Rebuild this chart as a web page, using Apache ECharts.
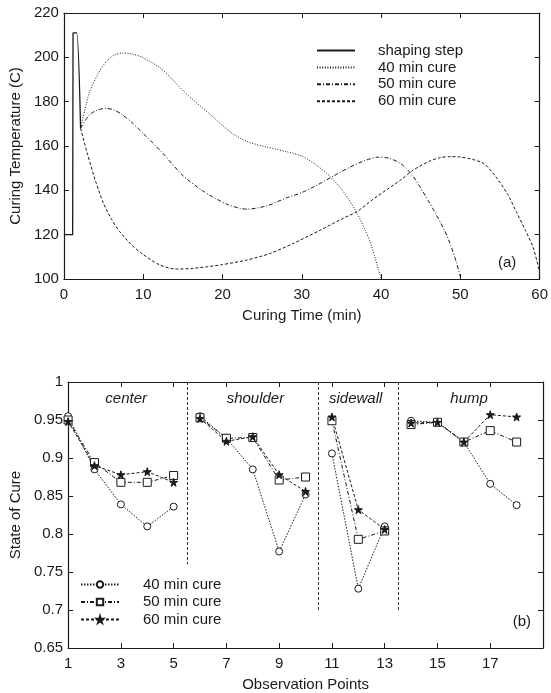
<!DOCTYPE html>
<html>
<head>
<meta charset="utf-8">
<script src="https://cdn.jsdelivr.net/npm/echarts@6/dist/echarts.min.js"></script>
<style>
  html, body { margin: 0; padding: 0; background: #fff; }
  #main { width: 551px; height: 693px; }
</style>
</head>
<body>
<div id="main"></div>
<script>
const FONT = '"Liberation Sans", Arial, Helvetica, sans-serif'
const INK = '#1a1a1a'

// (a) curing temperature profiles, [time (min), temperature (C)]
const shapingStep = [[0, 120], [1.1, 120], [1.15, 211], [1.6, 211], [2.1, 168]]
const cure40 = [[2.1, 168], [3.2, 184], [4.3, 192.5], [5.3, 198], [6.3, 201], [7.4, 202], [8.6, 201.5],
  [9.9, 200], [12.4, 194.5], [15.3, 184], [18.2, 175], [21.1, 166], [23.1, 162], [25.6, 159.5],
  [28, 157.5], [30, 155.5], [31.8, 151.5], [33.5, 146.5], [35, 140.5], [36, 135.5], [37, 129.5],
  [38, 122], [38.6, 117], [39.2, 110], [39.7, 104], [40, 100]]
const cure50 = [[2.1, 168], [3.2, 174], [4.2, 176.2], [5.3, 177], [6.3, 176.3], [7.4, 174], [8.6, 170.5],
  [9.9, 166], [12.4, 157], [14.9, 147], [17.4, 140], [20.7, 133.5], [23.1, 131.5], [25.6, 133],
  [28, 136.5], [30, 139], [32, 142.5], [34, 146.5], [36, 150.3], [38, 153.5], [39.7, 155], [41, 154.5],
  [42.5, 152], [43.9, 147], [45, 141], [46, 135], [46.8, 130], [48, 122], [48.8, 115], [49.5, 107.5], [50, 101]]
const cure60 = [[2.1, 168], [3, 156], [4, 144], [5, 134], [6, 127], [7, 121.5], [8.5, 115.5], [10, 111],
  [12, 106.5], [14, 104.5], [16, 104.7], [18, 105.5], [20, 106.5], [23, 108.5], [26, 111.5], [28.9, 116],
  [32.3, 122], [35, 127], [37, 130.5], [39, 136], [41, 141], [42.6, 145], [44, 149], [46, 153],
  [47.5, 154.8], [48.8, 155.2], [50, 155], [51.5, 154], [53, 152], [54.5, 146], [56, 138], [57.1, 130],
  [58.2, 122], [59.2, 114], [60, 103]]

// (b) state of cure at the observation points
const obsPoints = [1, 2, 3, 4, 5, 6, 7, 8, 9, 10, 11, 12, 13, 14, 15, 16, 17, 18]
const regionNames = ['center', 'shoulder', 'sidewall', 'hump']
const regionSizes = [5, 5, 3, 5]
const regionLabelX = [3.2, 8.1, 11.9, 16.2]
const separatorX = [5.5, 10.5, 13.5]
const separatorBottom = [0.76, 0.70, 0.70]
const cure40State = [0.955, 0.885, 0.839, 0.810, 0.836, 0.955, 0.926, 0.885, 0.777, 0.852,
  0.906, 0.728, 0.810, 0.949, 0.947, 0.921, 0.866, 0.838]
const cure50State = [0.950, 0.894, 0.868, 0.868, 0.877, 0.953, 0.926, 0.927, 0.871, 0.875,
  0.949, 0.793, 0.804, 0.944, 0.947, 0.921, 0.936, 0.921]
const cure60State = [0.948, 0.890, 0.878, 0.882, 0.868, 0.952, 0.922, 0.928, 0.878, 0.856,
  0.954, 0.832, 0.806, 0.946, 0.947, 0.921, 0.957, 0.954]

const STAR = 'path://M50,0 L61,35 L98,35 L68,57 L79,91 L50,70 L21,91 L32,57 L2,35 L39,35 Z'

// break the line between regions
function regionData(values) {
  let out = []
  let k = 0
  regionSizes.forEach(function (n, r) {
    for (let i = 0; i < n; i++, k++) {
      out.push([obsPoints[k], values[k]])
    }
    if (r < regionSizes.length - 1) out.push([obsPoints[k - 1] + 0.5, '-'])
  })
  return out
}

const labelStyle = {fontFamily: FONT, fontSize: 15, color: INK}

function boxX(gridIndex, min, max, interval, name, formatter) {
  let line = {onZero: false, lineStyle: {color: INK, width: 1.2}}
  let tick = {inside: true, length: 5, lineStyle: {color: INK}}
  return [{
    type: 'value', gridIndex: gridIndex, min: min, max: max, interval: interval, position: 'bottom',
    name: name, nameLocation: 'middle', nameGap: 29, nameTextStyle: labelStyle,
    axisLine: line, axisTick: tick, splitLine: {show: false},
    axisLabel: Object.assign({margin: 8, formatter: formatter}, labelStyle)
  }, {
    type: 'value', gridIndex: gridIndex, min: min, max: max, interval: interval, position: 'top',
    axisLine: line, axisTick: tick, splitLine: {show: false}, axisLabel: {show: false}
  }]
}

function boxY(gridIndex, min, max, interval, name, formatter) {
  let line = {onZero: false, lineStyle: {color: INK, width: 1.2}}
  let tick = {inside: true, length: 5, lineStyle: {color: INK}}
  return [{
    type: 'value', gridIndex: gridIndex, min: min, max: max, interval: interval, position: 'left',
    name: name, nameLocation: 'middle', nameGap: 36, nameTextStyle: labelStyle,
    axisLine: line, axisTick: tick, splitLine: {show: false},
    axisLabel: Object.assign({margin: 5, formatter: formatter}, labelStyle)
  }, {
    type: 'value', gridIndex: gridIndex, min: min, max: max, interval: interval, position: 'right',
    axisLine: line, axisTick: tick, splitLine: {show: false}, axisLabel: {show: false}
  }]
}

function tempLine(name, data, dash, width) {
  return {
    name: name, type: 'line', xAxisIndex: 0, yAxisIndex: 0, data: data,
    symbol: 'none', smooth: 0.25, animation: false,
    lineStyle: {color: INK, width: width, type: dash},
    itemStyle: {color: INK}
  }
}

function cureLine(name, data, dash, symbol, fill, size) {
  return {
    name: name, type: 'line', xAxisIndex: 2, yAxisIndex: 2, data: regionData(data),
    symbol: symbol, symbolSize: size, showAllSymbol: true, connectNulls: false, animation: false,
    lineStyle: {color: INK, width: 1, type: dash},
    itemStyle: {color: fill, borderColor: INK, borderWidth: 1}
  }
}

const sepLines = separatorX.map(function (x, i) {
  return [{coord: [x, 1]}, {coord: [x, separatorBottom[i]]}]
})

let myChart = echarts.init(document.getElementById('main'), null, {renderer: 'canvas'})

let series = [
  tempLine('shaping step', shapingStep, 'solid', 1.3),
  tempLine('40 min cure', cure40, [1, 1.6], 1),
  tempLine('50 min cure', cure50, [4, 2, 1, 2], 1),
  tempLine('60 min cure', cure60, [3, 2], 1),
  cureLine('40 min cure ', cure40State, [1.5, 1.5], 'circle', '#fff', 7),
  cureLine('50 min cure ', cure50State, [4, 2, 1, 2], 'rect', '#fff', 8),
  cureLine('60 min cure ', cure60State, [3, 2], STAR, INK, 8)
]
series[4].markLine = {
  silent: true, symbol: 'none', animation: false, label: {show: false},
  lineStyle: {color: '#333', width: 1, type: [3, 2]},
  data: sepLines
}

let option = {
  backgroundColor: '#fff',
  animation: false,
  grid: [
    {left: 60, top: 13, width: 483, height: 266},
    {left: 60, top: 382, width: 483, height: 267}
  ],
  xAxis: [].concat(
    boxX(0, 0, 60, 10, 'Curing Time (min)'),
    boxX(1, 1, 19, 2, 'Observation Points', function (v) { return v === 19 ? '' : v })
  ),
  yAxis: [].concat(
    boxY(0, 100, 220, 20, 'Curing Temperature (C)'),
    boxY(1, 0.65, 1, 0.05, 'State of Cure', function (v) { return +v.toFixed(2) })
  ),
  legend: [{
    data: ['shaping step', '40 min cure', '50 min cure', '60 min cure'],
    orient: 'vertical', left: 316, top: 43, padding: 0, itemWidth: 38, itemHeight: 8, itemGap: 1.9,
    selectedMode: false,
    itemStyle: {color: 'transparent', borderColor: 'transparent', borderWidth: 0},
    textStyle: {fontFamily: FONT, fontSize: 15, color: INK, lineHeight: 12, padding: [0, 0, 0, 18]}
  }, {
    data: ['40 min cure ', '50 min cure ', '60 min cure '],
    orient: 'vertical', left: 80, top: 577, padding: 0, itemWidth: 38, itemHeight: 8, itemGap: 2.5,
    selectedMode: false,
    textStyle: {fontFamily: FONT, fontSize: 15, color: INK, lineHeight: 12, padding: [0, 0, 0, 19]}
  }],
  series: series
}

myChart.setOption(option)

// region names and panel tags
let texts = regionNames.map(function (name, i) {
  let p = myChart.convertToPixel({gridIndex: 1}, [regionLabelX[i], 0.978])
  return {
    type: 'text', x: p[0], y: p[1],
    style: {text: name, fontFamily: FONT, fontSize: 15, fontStyle: 'italic', fill: INK, align: 'center', verticalAlign: 'middle'}
  }
})
let pa = myChart.convertToPixel({gridIndex: 0}, [55.9, 107.5])
let pb = myChart.convertToPixel({gridIndex: 1}, [18.2, 0.685])
texts.push({type: 'text', x: pa[0], y: pa[1],
  style: {text: '(a)', fontFamily: FONT, fontSize: 15, fill: INK, align: 'center', verticalAlign: 'middle'}})
texts.push({type: 'text', x: pb[0], y: pb[1],
  style: {text: '(b)', fontFamily: FONT, fontSize: 15, fill: INK, align: 'center', verticalAlign: 'middle'}})
myChart.setOption({graphic: texts})
</script>
</body>
</html>
